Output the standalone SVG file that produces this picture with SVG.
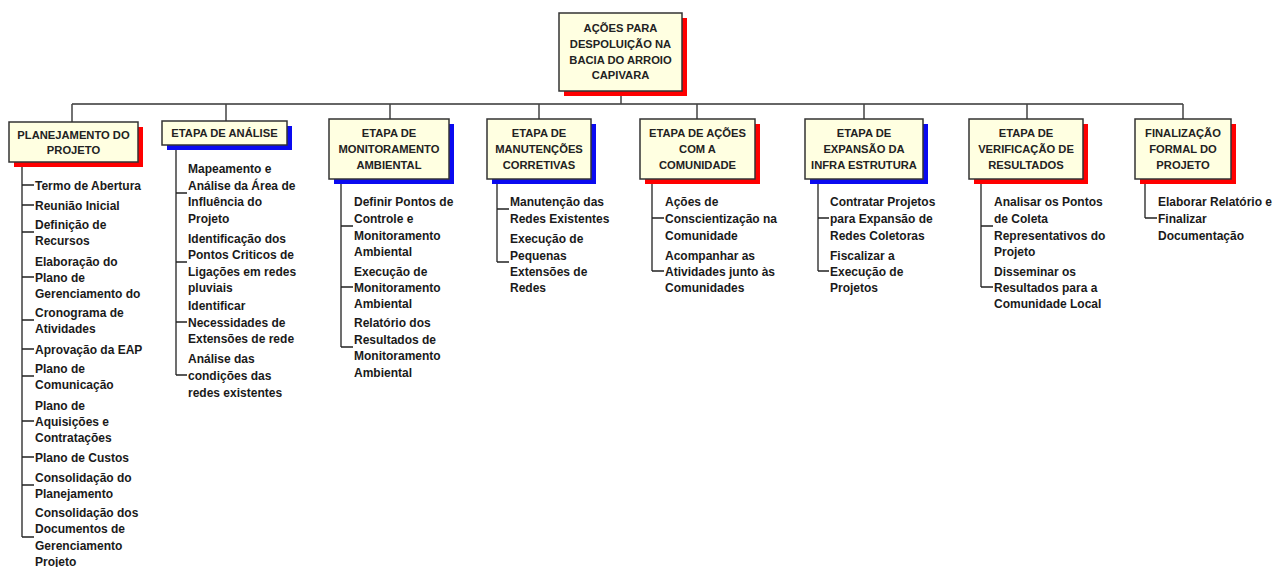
<svg xmlns="http://www.w3.org/2000/svg" width="1276" height="567" viewBox="0 0 1276 567">
<style>
.bg{fill:#fff}
.box{fill:#FFFFE1;stroke:#333;stroke-width:1.5}
.shr{fill:#F00}
.shb{fill:#0A0AF0}
.hdr{font-family:"Liberation Sans",Arial,sans-serif;font-weight:bold;font-size:11.2px;fill:#222;text-anchor:middle}
.itm{font-family:"Liberation Sans",Arial,sans-serif;font-weight:bold;font-size:12px;fill:#1a1a1a}
.bus{stroke:#666;stroke-width:2;fill:none}
.stem{stroke:#444;stroke-width:1.5;fill:none}
.lnk{stroke:#222;stroke-width:1.3;fill:none}
</style>
<rect class="bg" x="0" y="0" width="1276" height="567"/>

<g id="connectors">
  <path class="bus" d="M72 104 H1183"/>
  <path class="stem" d="M621 91 V104 M72 104 V122 M226 104 V121 M390 104 V119 M539 104 V119 M697 104 V119 M864 104 V119 M1027 104 V119 M1183 104 V119"/>
  <!-- col 1 -->
  <path class="lnk" d="M22 162 V537 M22 185 H34 M22 205 H34 M22 232 H34 M22 277 H34 M22 320 H34 M22 349 H34 M22 376 H34 M22 421 H34 M22 457 H34 M22 485 H34 M22 537 H34"/>
  <!-- col 2 -->
  <path class="lnk" d="M176 145 V375 M176 193 H187 M176 262 H187 M176 322 H187 M176 375 H187"/>
  <!-- col 3 -->
  <path class="lnk" d="M341 179 V347 M341 226 H353 M341 287 H353 M341 347 H353"/>
  <!-- col 4 -->
  <path class="lnk" d="M497 179 V262 M497 209 H509 M497 262 H509"/>
  <!-- col 5 -->
  <path class="lnk" d="M652 179 V271 M652 218 H664 M652 271 H664"/>
  <!-- col 6 -->
  <path class="lnk" d="M818 179 V271 M818 218 H829 M818 271 H829"/>
  <!-- col 7 -->
  <path class="lnk" d="M981 179 V287 M981 226 H993 M981 287 H993"/>
  <!-- col 8 -->
  <path class="lnk" d="M1145 179 V218 M1145 218 H1157"/>
</g>

<g id="root">
  <rect class="shr" x="564" y="18" width="123" height="78"/>
  <rect class="box" x="559" y="13" width="123" height="78"/>
  <text class="hdr"><tspan x="620.5" y="32">AÇÕES PARA</tspan><tspan x="620.5" y="48">DESPOLUIÇÃO NA</tspan><tspan x="620.5" y="64">BACIA DO ARROIO</tspan><tspan x="620.5" y="79">CAPIVARA</tspan></text>
</g>

<g id="planejamento">
  <rect class="shr" x="14" y="127" width="129" height="40"/>
  <rect class="box" x="9" y="122" width="129" height="40"/>
  <text class="hdr"><tspan x="73.5" y="139">PLANEJAMENTO DO</tspan><tspan x="73.5" y="154">PROJETO</tspan></text>
  <text class="itm">
    <tspan x="35" y="189.5">Termo de Abertura</tspan>
    <tspan x="35" y="209.5">Reunião Inicial</tspan>
    <tspan x="35" y="228.5">Definição de</tspan>
    <tspan x="35" y="244.5">Recursos</tspan>
    <tspan x="35" y="265.5">Elaboração do</tspan>
    <tspan x="35" y="281.5">Plano de</tspan>
    <tspan x="35" y="297.5">Gerenciamento do</tspan>
    <tspan x="35" y="316.5">Cronograma de</tspan>
    <tspan x="35" y="332.5">Atividades</tspan>
    <tspan x="35" y="353.5">Aprovação da EAP</tspan>
    <tspan x="35" y="372.5">Plano de</tspan>
    <tspan x="35" y="388.5">Comunicação</tspan>
    <tspan x="35" y="409.5">Plano de</tspan>
    <tspan x="35" y="425.5">Aquisições e</tspan>
    <tspan x="35" y="441.5">Contratações</tspan>
    <tspan x="35" y="461.5">Plano de Custos</tspan>
    <tspan x="35" y="481.5">Consolidação do</tspan>
    <tspan x="35" y="497.5">Planejamento</tspan>
    <tspan x="35" y="516.5">Consolidação dos</tspan>
    <tspan x="35" y="532.5">Documentos de</tspan>
    <tspan x="35" y="549.5">Gerenciamento</tspan>
    <tspan x="35" y="566">Projeto</tspan>
  </text>
</g>

<g id="analise">
  <rect class="shb" x="167" y="126" width="125" height="24"/>
  <rect class="box" x="162" y="121" width="125" height="24"/>
  <text class="hdr"><tspan x="224.5" y="137">ETAPA DE ANÁLISE</tspan></text>
  <text class="itm">
    <tspan x="188" y="172.5">Mapeamento e</tspan>
    <tspan x="188" y="189.5">Análise da Área de</tspan>
    <tspan x="188" y="205.5">Influência do</tspan>
    <tspan x="188" y="222.5">Projeto</tspan>
    <tspan x="188" y="242.5">Identificação dos</tspan>
    <tspan x="188" y="258.5">Pontos Criticos de</tspan>
    <tspan x="188" y="275.5">Ligações em redes</tspan>
    <tspan x="188" y="291.5">pluviais</tspan>
    <tspan x="188" y="309.5">Identificar</tspan>
    <tspan x="188" y="326.5">Necessidades de</tspan>
    <tspan x="188" y="342.5">Extensões de rede</tspan>
    <tspan x="188" y="362.5">Análise das</tspan>
    <tspan x="188" y="379.5">condições das</tspan>
    <tspan x="188" y="396.5">redes existentes</tspan>
  </text>
</g>

<g id="monitoramento">
  <rect class="shb" x="334" y="124" width="120" height="60"/>
  <rect class="box" x="329" y="119" width="120" height="60"/>
  <text class="hdr"><tspan x="389" y="137">ETAPA DE</tspan><tspan x="389" y="153">MONITORAMENTO</tspan><tspan x="389" y="169">AMBIENTAL</tspan></text>
  <text class="itm">
    <tspan x="354" y="205.5">Definir Pontos de</tspan>
    <tspan x="354" y="222.5">Controle e</tspan>
    <tspan x="354" y="239.5">Monitoramento</tspan>
    <tspan x="354" y="255.5">Ambiental</tspan>
    <tspan x="354" y="275.5">Execução de</tspan>
    <tspan x="354" y="291.5">Monitoramento</tspan>
    <tspan x="354" y="307.5">Ambiental</tspan>
    <tspan x="354" y="326.5">Relatório dos</tspan>
    <tspan x="354" y="343.5">Resultados de</tspan>
    <tspan x="354" y="359.5">Monitoramento</tspan>
    <tspan x="354" y="376.5">Ambiental</tspan>
  </text>
</g>

<g id="manutencoes">
  <rect class="shb" x="492" y="124" width="104" height="60"/>
  <rect class="box" x="487" y="119" width="104" height="60"/>
  <text class="hdr"><tspan x="539" y="137">ETAPA DE</tspan><tspan x="539" y="153">MANUTENÇÕES</tspan><tspan x="539" y="169">CORRETIVAS</tspan></text>
  <text class="itm">
    <tspan x="510" y="205.5">Manutenção das</tspan>
    <tspan x="510" y="222.5">Redes Existentes</tspan>
    <tspan x="510" y="242.5">Execução de</tspan>
    <tspan x="510" y="259.5">Pequenas</tspan>
    <tspan x="510" y="275.5">Extensões de</tspan>
    <tspan x="510" y="291.5">Redes</tspan>
  </text>
</g>

<g id="comunidade">
  <rect class="shr" x="645" y="124" width="115" height="60"/>
  <rect class="box" x="640" y="119" width="115" height="60"/>
  <text class="hdr"><tspan x="697.5" y="137">ETAPA DE AÇÕES</tspan><tspan x="697.5" y="153">COM A</tspan><tspan x="697.5" y="169">COMUNIDADE</tspan></text>
  <text class="itm">
    <tspan x="665" y="205.5">Ações de</tspan>
    <tspan x="665" y="222.5">Conscientização na</tspan>
    <tspan x="665" y="239.5">Comunidade</tspan>
    <tspan x="665" y="259.5">Acompanhar as</tspan>
    <tspan x="665" y="275.5">Atividades junto às</tspan>
    <tspan x="665" y="291.5">Comunidades</tspan>
  </text>
</g>

<g id="expansao">
  <rect class="shb" x="810" y="124" width="118" height="60"/>
  <rect class="box" x="805" y="119" width="118" height="60"/>
  <text class="hdr"><tspan x="864" y="137">ETAPA DE</tspan><tspan x="864" y="153">EXPANSÃO DA</tspan><tspan x="864" y="169">INFRA ESTRUTURA</tspan></text>
  <text class="itm">
    <tspan x="830" y="205.5">Contratar Projetos</tspan>
    <tspan x="830" y="222.5">para Expansão de</tspan>
    <tspan x="830" y="239.5">Redes Coletoras</tspan>
    <tspan x="830" y="259.5">Fiscalizar a</tspan>
    <tspan x="830" y="275.5">Execução de</tspan>
    <tspan x="830" y="291.5">Projetos</tspan>
  </text>
</g>

<g id="verificacao">
  <rect class="shr" x="974" y="124" width="114" height="60"/>
  <rect class="box" x="969" y="119" width="114" height="60"/>
  <text class="hdr"><tspan x="1026" y="137">ETAPA DE</tspan><tspan x="1026" y="153">VERIFICAÇÃO DE</tspan><tspan x="1026" y="169">RESULTADOS</tspan></text>
  <text class="itm">
    <tspan x="994" y="205.5">Analisar os Pontos</tspan>
    <tspan x="994" y="222.5">de Coleta</tspan>
    <tspan x="994" y="239.5">Representativos do</tspan>
    <tspan x="994" y="255.5">Projeto</tspan>
    <tspan x="994" y="275.5">Disseminar os</tspan>
    <tspan x="994" y="291.5">Resultados para a</tspan>
    <tspan x="994" y="307.5">Comunidade Local</tspan>
  </text>
</g>

<g id="finalizacao">
  <rect class="shr" x="1140" y="124" width="96" height="60"/>
  <rect class="box" x="1135" y="119" width="96" height="60"/>
  <text class="hdr"><tspan x="1183" y="137">FINALIZAÇÃO</tspan><tspan x="1183" y="153">FORMAL DO</tspan><tspan x="1183" y="169">PROJETO</tspan></text>
  <text class="itm">
    <tspan x="1158" y="205.5">Elaborar Relatório e</tspan>
    <tspan x="1158" y="222.5">Finalizar</tspan>
    <tspan x="1158" y="239.5">Documentação</tspan>
  </text>
</g>
</svg>
